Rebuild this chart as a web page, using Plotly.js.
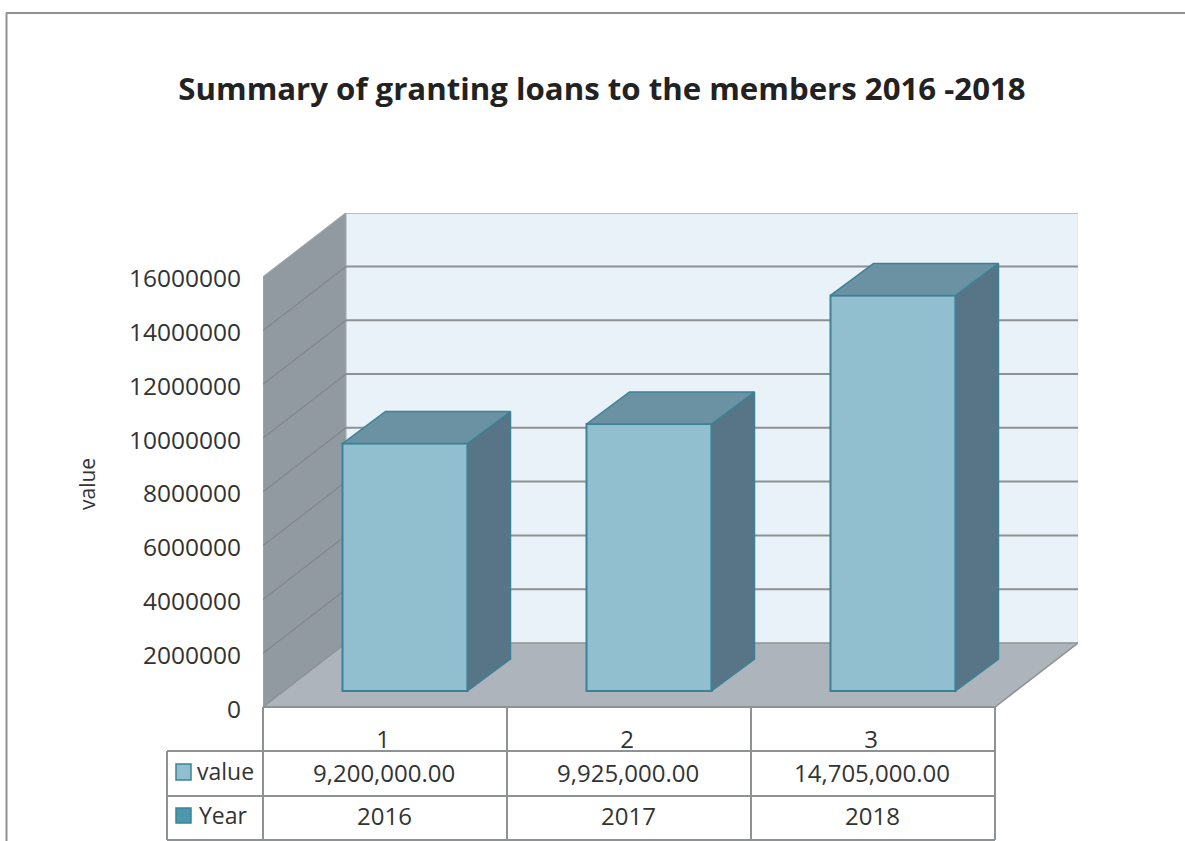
<!DOCTYPE html>
<html>
<head>
<meta charset="utf-8">
<script src="https://cdn.plot.ly/plotly-3.0.1.min.js"></script>
<style>html,body{margin:0;padding:0;background:#fff}#chart{width:1185px;height:841px}</style>
</head>
<body>
<div id="chart"></div>
<script>
// Loan totals per year
const categories = [1, 2, 3];
const values = [9200000, 9925000, 14705000];
const years = ['2016', '2017', '2018'];
const valueLabels = ['9,200,000.00', '9,925,000.00', '14,705,000.00'];
const yTicks = [0, 2000000, 4000000, 6000000, 8000000, 10000000, 12000000, 14000000, 16000000];

// Plot frame in pixels
const W = 1185, H = 841;
const plotL = 263, plotR = 1078, plotT = 213, plotB = 707;
const catW = 244;              // px per category
const unitPx = 26.9 / 1e6;     // px per currency unit
const xPerPx = 1 / catW, yPerPx = 1 / unitPx;

// Oblique projection: depth of the box and of each bar
const boxDX = 83 * xPerPx, boxDY = 64 * yPerPx;
const barDX = 43 * xPerPx, barDY = 32 * yPerPx;
const barShiftX = 20 * xPerPx, barBase = 16 * yPerPx;
const barW = 125 * xPerPx;

const xMin = 0.5, xFront = 3.5, xMax = xFront + boxDX;
const yMax = (plotB - plotT) * yPerPx;

const C = {
  front: '#92bfd0', side: '#587587', top: '#6b92a3', edge: '#3c8296',
  back: '#e9f2f8', wall: '#929aa1', floor: '#aeb4bb',
  grid: '#8e9194', wallGrid: '#80868b', rule: '#8f9294', text: '#333333', year: '#4a97ae'
};
const FONT = '"Open Sans", sans-serif';

const px = v => (v - plotL) / (plotR - plotL);
const py = v => (plotB - v) / (plotB - plotT);

function poly(pts, fill, line, lineW, layer) {
  const path = 'M' + pts.map(p => p[0] + ',' + p[1]).join('L') + 'Z';
  return {type: 'path', xref: 'x', yref: 'y', path, fillcolor: fill,
          line: {color: line || fill, width: lineW || 0}, layer: layer || 'below'};
}
function ruleP(x0, y0, x1, y1, color, width) {
  return {type: 'line', xref: 'paper', yref: 'paper', x0: px(x0), y0: py(y0), x1: px(x1), y1: py(y1),
          line: {color: color, width: width}, layer: 'above'};
}

// Walls and floor of the chart box
const shapes = [
  poly([[xMin + boxDX, boxDY], [xMax, boxDY], [xMax, yMax], [xMin + boxDX, yMax]], C.back, '#dfe6ec', 1),
  poly([[xMin, 0], [xMin + boxDX, boxDY], [xMin + boxDX, 16000000 + boxDY], [xMin, 16000000]], C.wall, '#a4aab0', 1),
  poly([[xMin, 0], [xFront, 0], [xMax, boxDY], [xMin + boxDX, boxDY]], C.floor, C.rule, 1.5)
];
// Gridlines on the back and left walls
yTicks.forEach(t => {
  if (t > 0) {
    shapes.push({type: 'line', xref: 'x', yref: 'y', x0: xMin + boxDX, x1: xMax, y0: t + boxDY, y1: t + boxDY,
                 line: {color: C.grid, width: 2}, layer: 'below'});
    if (t < 16000000) {
      shapes.push({type: 'line', xref: 'x', yref: 'y', x0: xMin, x1: xMin + boxDX, y0: t, y1: t + boxDY,
                   line: {color: C.wallGrid, width: 1.2}, layer: 'below'});
    }
  }
});

// Data table under the plot
const colX = [plotL, plotL + catW, plotL + 2 * catW, plotL + 3 * catW];
const tableL = 167, rowY = [707, 751, 796, 840];
rowY.forEach((y, i) => shapes.push(ruleP(i === 0 ? plotL : tableL, y, colX[3], y, C.rule, 2)));
colX.forEach(x => shapes.push(ruleP(x, rowY[0], x, rowY[3], C.rule, 2)));
shapes.push(ruleP(tableL, rowY[1], tableL, rowY[3], C.rule, 2));

// Outer chart frame
shapes.push(ruleP(6.5, 13, 6.5, 841, C.rule, 2));
shapes.push(ruleP(6, 13, 1185, 13, C.rule, 2));

// Legend keys in the table
const keyBox = (y0, y1, fill) => ({type: 'rect', xref: 'paper', yref: 'paper',
  x0: px(176), x1: px(191), y0: py(y1), y1: py(y0), fillcolor: fill,
  line: {color: C.edge, width: 1.5}, layer: 'above'});
shapes.push(keyBox(764, 780, C.front), keyBox(808, 823, C.year));

// Table text and the rotated axis caption
const annotations = [];
const cell = (x, y, text, anchor, size) => ({xref: 'paper', yref: 'paper', x: px(x), y: py(y), text,
  showarrow: false, xanchor: anchor || 'center', yanchor: 'middle',
  font: {family: FONT, size: size || 24, color: C.text}});
categories.forEach((c, i) => {
  const mid = colX[i] + catW / 2 - 1;
  annotations.push(cell(mid, 772, valueLabels[i]));
  annotations.push(cell(mid, 815, years[i]));
});
annotations.push(cell(195, 771, 'value', 'left', 23), cell(197, 815, 'Year', 'left', 23));
annotations.push(Object.assign(cell(87, 484, 'value', 'center', 21), {textangle: -90}));

// Front faces of the bars, then side and top faces from the same values
const barX = categories.map(c => c + barShiftX);
const traces = [{
  type: 'bar', x: barX, y: values, base: categories.map(() => barBase), width: barW,
  marker: {color: C.front, line: {color: C.edge, width: 2}},
  hoverinfo: 'y', showlegend: false
}];
categories.forEach((c, i) => {
  const xl = barX[i] - barW / 2, xr = barX[i] + barW / 2;
  const bot = barBase, top = barBase + values[i];
  traces.push({
    type: 'scatter', mode: 'lines', fill: 'toself', fillcolor: C.side,
    x: [xr, xr + barDX, xr + barDX, xr, xr],
    y: [bot, bot + barDY, top + barDY, top, bot],
    line: {color: C.edge, width: 1.5}, hoverinfo: 'skip', showlegend: false
  });
  traces.push({
    type: 'scatter', mode: 'lines', fill: 'toself', fillcolor: C.top,
    x: [xl, xl + barDX, xr + barDX, xr, xl],
    y: [top, top + barDY, top + barDY, top, top],
    line: {color: C.edge, width: 1.5}, hoverinfo: 'skip', showlegend: false
  });
});

const layout = {
  width: W, height: H,
  margin: {l: plotL, r: W - plotR, t: plotT, b: H - plotB, pad: 0},
  paper_bgcolor: '#fff', plot_bgcolor: 'rgba(0,0,0,0)',
  showlegend: false,
  title: {text: 'Summary of granting loans to the members 2016 -2018',
          x: 602 / W, xanchor: 'center', y: 1 - 89 / H, yanchor: 'middle',
          font: {family: FONT, size: 31.2, color: '#222222', weight: 700}},
  xaxis: {range: [xMin, xMax], tickmode: 'array', tickvals: categories, ticktext: categories.map(String),
          showgrid: false, zeroline: false, showline: false, ticks: '', ticklabelstandoff: 16, ticklabelshift: -2,
          tickfont: {family: FONT, size: 24, color: C.text}},
  yaxis: {range: [0, yMax], tickmode: 'array', tickvals: yTicks, ticktext: yTicks.map(String),
          showgrid: false, zeroline: false, showline: false, ticks: '', ticklabelstandoff: 21, ticklabelshift: 2,
          tickfont: {family: FONT, size: 24.5, color: C.text}},
  shapes, annotations
};

Plotly.newPlot('chart', traces, layout, {displayModeBar: false, responsive: false});
</script>
</body>
</html>
